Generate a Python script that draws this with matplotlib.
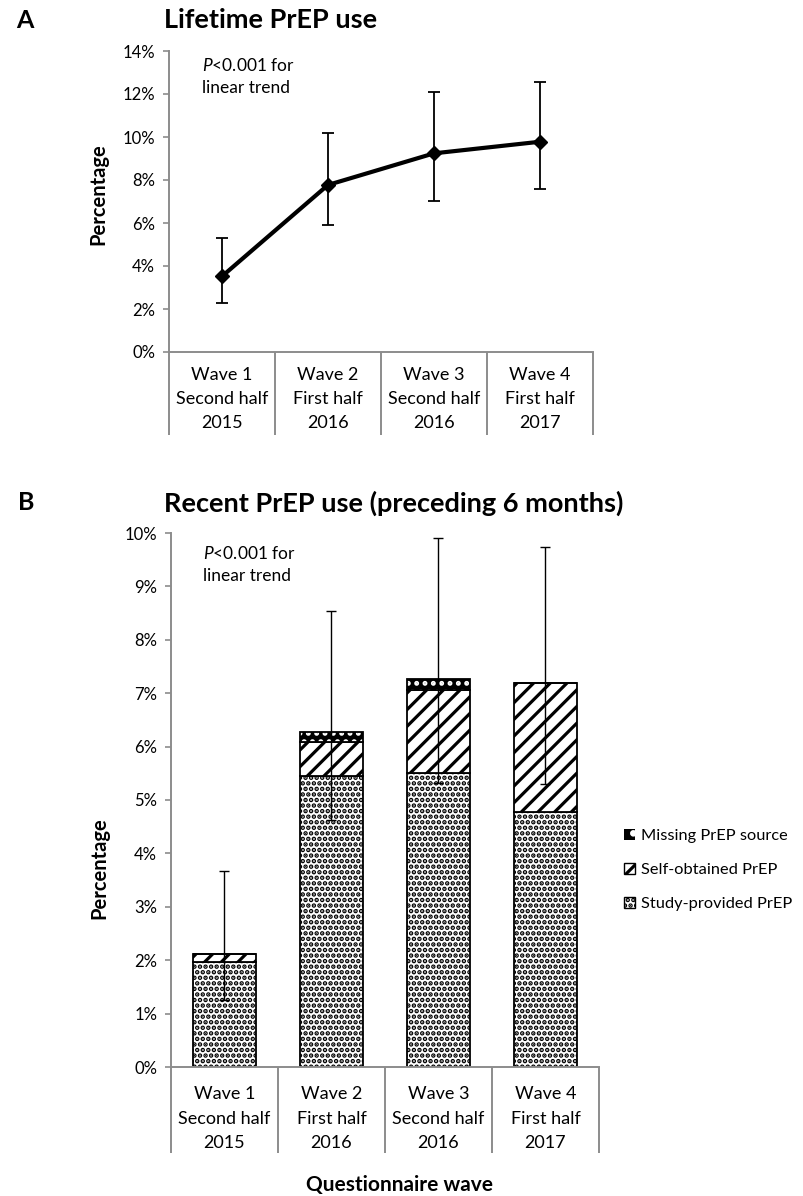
import matplotlib
matplotlib.use("Agg")
import matplotlib.pyplot as plt
from matplotlib.patches import Patch
from matplotlib.ticker import PercentFormatter, FixedLocator
import numpy as np

plt.rcParams['font.family'] = ['Lato', 'DejaVu Sans']
plt.rcParams['mathtext.fontset'] = 'custom'
plt.rcParams['mathtext.it'] = 'Lato:italic'
plt.rcParams['mathtext.rm'] = 'Lato'
plt.rcParams['hatch.linewidth'] = 2.3

# ---------------- data ----------------
waves = ["Wave 1\nSecond half\n2015", "Wave 2\nFirst half\n2016",
         "Wave 3\nSecond half\n2016", "Wave 4\nFirst half\n2017"]
lifetime = [3.52, 7.77, 9.24, 9.78]
lifetime_lo = [2.28, 5.90, 7.03, 7.58]
lifetime_hi = [5.30, 10.20, 12.07, 12.58]

study_provided = [1.97, 5.45, 5.50, 4.77]
self_obtained = [0.15, 0.63, 1.56, 2.42]
missing_source = [0.00, 0.20, 0.21, 0.00]
recent_lo = [1.25, 4.62, 5.32, 5.30]
recent_hi = [3.67, 8.53, 9.91, 9.73]

legend_labels = ["Missing PrEP source", "Self-obtained PrEP", "Study-provided PrEP"]
# --------------------------------------

W, H = 804, 1196
fig = plt.figure(figsize=(W / 100, H / 100), dpi=100)

gray = '#8c8c8c'


def style_axes(ax, ymax, ystep, sep_len, pad):
    for s in ['top', 'right']:
        ax.spines[s].set_visible(False)
    for s in ['left', 'bottom']:
        ax.spines[s].set_color(gray)
        ax.spines[s].set_linewidth(1.4)
    ax.set_xlim(-0.5, len(waves) - 0.5)
    ax.set_ylim(0, ymax)
    ax.set_yticks(np.arange(0, ymax + 0.001, ystep))
    ax.yaxis.set_major_formatter(PercentFormatter(decimals=0))
    ax.tick_params(axis='y', length=4, width=1.2, color=gray, labelsize=12, pad=6)
    x = np.arange(len(waves))
    ax.set_xticks(x)
    ax.set_xticklabels(waves, fontsize=13, linespacing=1.64)
    ax.tick_params(axis='x', which='major', length=0, pad=pad)
    ax.xaxis.set_minor_locator(FixedLocator(np.arange(-0.5, len(waves), 1.0)))
    ax.tick_params(axis='x', which='minor', length=sep_len, width=1.4, color=gray)


# ---------------- Panel A ----------------
axA = fig.add_axes([169 / W, 1 - 352 / H, 424 / W, 301 / H])
style_axes(axA, 14, 2, 60, 10.5)
xA = np.arange(len(waves))
yerrA = [np.array(lifetime) - np.array(lifetime_lo), np.array(lifetime_hi) - np.array(lifetime)]
axA.errorbar(xA, lifetime, yerr=yerrA, fmt='none', ecolor='black', elinewidth=1.3,
             capsize=4, capthick=1.3, zorder=2)
axA.plot(xA, lifetime, color='black', linewidth=3.0, marker='D', markersize=7, zorder=3)
axA.set_ylabel("Percentage", fontsize=14.5, fontweight='bold')
axA.yaxis.set_label_coords(-0.142, 0.525)
axA.text(0.078, 0.915, "$\\it{P}$<0.001 for\nlinear trend", transform=axA.transAxes,
         fontsize=12.5, va='center', ha='left', linespacing=1.5)

fig.text(16 / W, 1 - 20 / H, "A", fontsize=18, fontweight='bold', va='center', ha='left')
fig.text(164 / W, 1 - 20 / H, "Lifetime PrEP use", fontsize=19.5, fontweight='bold',
         va='center', ha='left')

# ---------------- Panel B ----------------
axB = fig.add_axes([171 / W, 1 - 1067 / H, 428 / W, 534 / H])
style_axes(axB, 10, 1, 62, 14)
xB = np.arange(len(waves))
bw = 0.59
axB.bar(xB, study_provided, width=bw, color='white', edgecolor='black',
        hatch='...', linewidth=1.3, zorder=1)
bottom2 = np.array(study_provided)
axB.bar(xB, self_obtained, width=bw, bottom=bottom2, color='white', edgecolor='black',
        hatch='//', linewidth=1.3, zorder=1)
bottom3 = bottom2 + np.array(self_obtained)
axB.bar(xB, missing_source, width=bw, bottom=bottom3, color='black', edgecolor='white',
        hatch='..', linewidth=0, zorder=1)
axB.bar(xB, missing_source, width=bw, bottom=bottom3, color='none', edgecolor='black',
        linewidth=1.3, zorder=1.5)
totals = bottom3 + np.array(missing_source)
yerrB = [totals - np.array(recent_lo), np.array(recent_hi) - totals]
axB.errorbar(xB, totals, yerr=yerrB, fmt='none', ecolor='black', elinewidth=1.0,
             capsize=3.5, capthick=1.0, zorder=3)
axB.set_ylabel("Percentage", fontsize=14.5, fontweight='bold')
axB.yaxis.set_label_coords(-0.145, 0.372)
axB.text(0.075, 0.941, "$\\it{P}$<0.001 for\nlinear trend", transform=axB.transAxes,
         fontsize=12.5, va='center', ha='left', linespacing=1.5)

fig.text(18 / W, 1 - 503 / H, "B", fontsize=18, fontweight='bold', va='center', ha='left')
fig.text(164 / W, 1 - 503 / H, "Recent PrEP use (preceding 6 months)", fontsize=19.5,
         fontweight='bold', va='center', ha='left')
fig.text(400 / W, 1 - 1185 / H, "Questionnaire wave", fontsize=15, fontweight='bold',
         va='center', ha='center')

handles = [
    Patch(facecolor='black', edgecolor='white', hatch='.', linewidth=0),
    Patch(facecolor='white', edgecolor='black', hatch='//', linewidth=1.0),
    Patch(facecolor='white', edgecolor='black', hatch='...', linewidth=1.0),
]
fig.legend(handles, legend_labels, loc='center left', bbox_to_anchor=(624 / W, 1 - 870 / H),
           frameon=False, fontsize=11.8, handlelength=0.7, handleheight=0.7,
           handletextpad=0.35, labelspacing=1.2, borderpad=0, borderaxespad=0)

fig.savefig("out.png", dpi=100)
